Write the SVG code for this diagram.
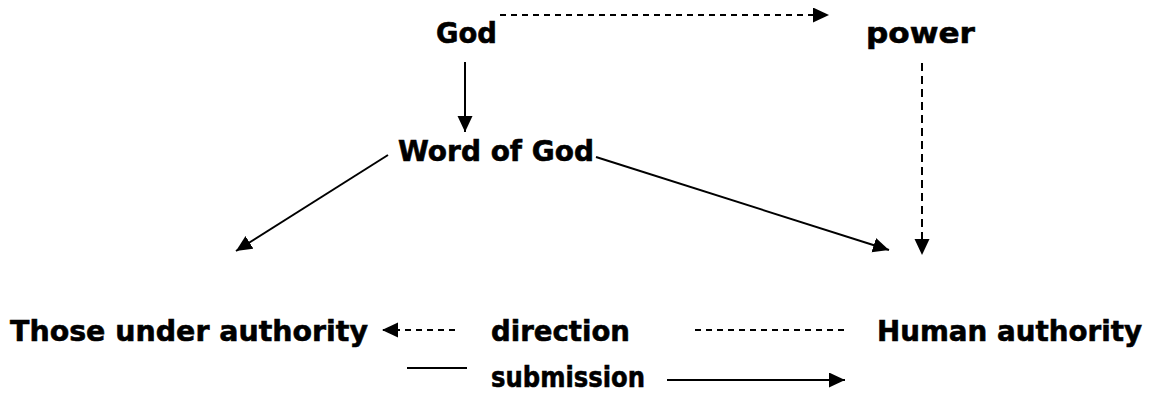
<svg xmlns="http://www.w3.org/2000/svg" width="1153" height="393" viewBox="0 0 1153 393">
<style>
text{font-family:"DejaVu Sans",Verdana,sans-serif;font-weight:bold;font-size:29px;fill:#000;stroke:#000;stroke-width:0.6}
.c{stroke:#000;stroke-width:2;fill:none}
.d{stroke-dasharray:6 5}
.v{stroke-dasharray:8 5}
</style>
<defs>
<marker id="ah" markerUnits="userSpaceOnUse" markerWidth="18" markerHeight="16" refX="16" refY="7.5" orient="auto">
<path d="M0,0 L16,7.5 L0,15 Z" fill="#000"/>
</marker>
</defs>
<rect width="1153" height="393" fill="#fff"/>
<g id="connectors">
<line class="c d" x1="500" y1="15" x2="829" y2="15" marker-end="url(#ah)"/>
<line class="c" x1="465" y1="62" x2="465" y2="132" marker-end="url(#ah)"/>
<line class="c" x1="388" y1="155" x2="236" y2="251" marker-end="url(#ah)"/>
<line class="c" x1="596" y1="157" x2="889" y2="250" marker-end="url(#ah)"/>
<line class="c v" x1="922" y1="63" x2="922" y2="255" marker-end="url(#ah)"/>
<line class="c d" x1="455" y1="330" x2="382" y2="330" marker-end="url(#ah)"/>
<line class="c d" x1="695" y1="330" x2="845" y2="330"/>
<line class="c" x1="407" y1="368" x2="467" y2="368"/>
<line class="c" x1="667" y1="380" x2="845" y2="380" marker-end="url(#ah)"/>
</g>
<g id="god"><text x="436" y="43" textLength="61" lengthAdjust="spacingAndGlyphs">God</text></g>
<g id="power"><text x="866" y="43" textLength="109" lengthAdjust="spacingAndGlyphs">power</text></g>
<g id="word"><text x="398" y="161" textLength="196" lengthAdjust="spacingAndGlyphs">Word of God</text></g>
<g id="those"><text x="10" y="341" textLength="358" lengthAdjust="spacingAndGlyphs">Those under authority</text></g>
<g id="direction"><text x="491" y="341" textLength="139" lengthAdjust="spacingAndGlyphs">direction</text></g>
<g id="human"><text x="877" y="341" textLength="265" lengthAdjust="spacingAndGlyphs">Human authority</text></g>
<g id="submission"><text x="491" y="387" textLength="154" lengthAdjust="spacingAndGlyphs">submission</text></g>
</svg>
